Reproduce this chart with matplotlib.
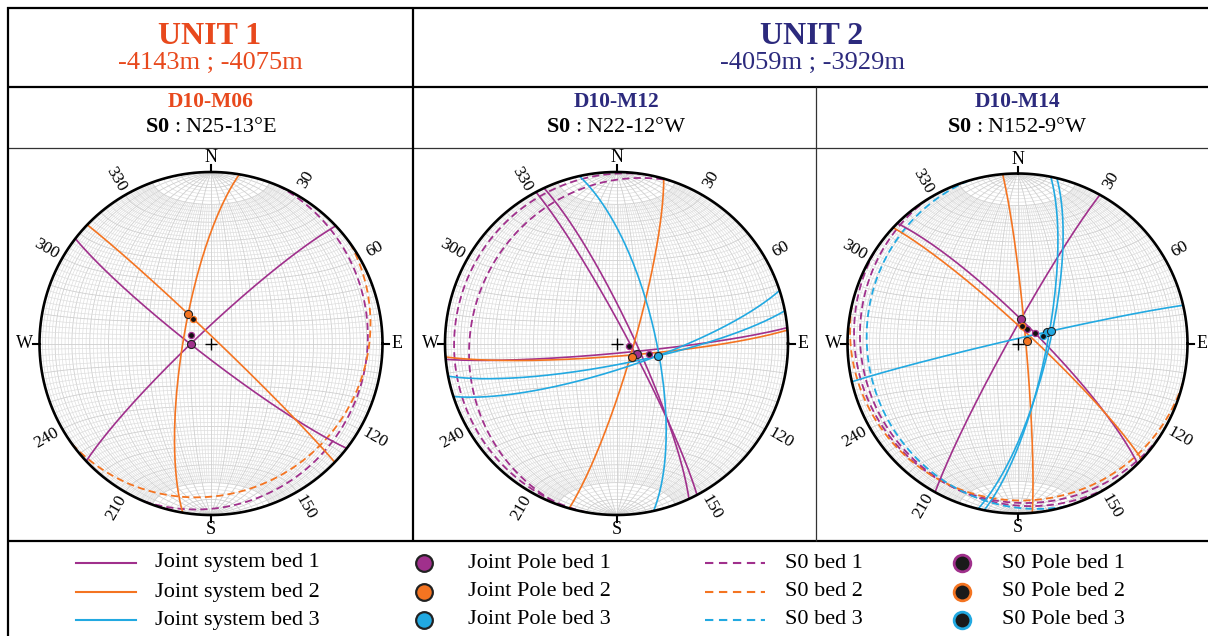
import numpy as np
import matplotlib
matplotlib.use("Agg")
import matplotlib.pyplot as plt
from matplotlib.lines import Line2D

plt.rcParams['font.family'] = ['Liberation Serif', 'DejaVu Serif']
plt.rcParams['mathtext.fontset'] = 'custom'
plt.rcParams['mathtext.rm'] = 'Liberation Serif'
plt.rcParams['mathtext.bf'] = 'Liberation Serif:bold'

W_PX, H_PX = 1208, 636

PURPLE = '#a0308c'
ORANGE = '#f47421'
CYAN = '#22a9e1'
UNIT1_COLOR = '#e8491d'
UNIT2_COLOR = '#2c2a7d'
BED_COLORS = [PURPLE, ORANGE, CYAN]

# planes are (dip direction, dip), poles/lines are (trend, plunge)
# D10-M06
m06_joint_bed1 = [(217.7, 83.8), (316.7, 83.5)]
m06_joint_bed2 = [(43.8, 87.3), (279.5, 76.8)]
m06_joint_bed3 = []
m06_jpole_bed1 = [(268.6, 80.3)]
m06_jpole_bed2 = [(322.4, 72.3)]
m06_jpole_bed3 = []
m06_s0_bed1 = [(113.0, 10.3)]
m06_s0_bed2 = [(144.1, 14.3)]
m06_s0_bed3 = []

# D10-M12
m12_joint_bed1 = [(174.7, 85.4), (62.0, 84.4), (65.0, 81.5)]
m12_joint_bed2 = [(175.5, 84.0), (106.0, 82.0)]
m12_joint_bed3 = [(77.5, 71.3), (169.0, 80.1), (162.0, 78.0)]
m12_jpole_bed1 = [(117.4, 78.9)]
m12_jpole_bed2 = [(131.0, 80.5)]
m12_jpole_bed3 = [(106.9, 69.6)]
m12_s0_bed1 = [(280.0, 6.0), (288.0, 16.0)]
m12_s0_bed2 = []
m12_s0_bed3 = []

# D10-M14
m14_joint_bed1 = [(45.0, 80.6), (299.0, 85.7)]
m14_joint_bed2 = [(43.0, 83.4), (85.0, 86.0)]
m14_joint_bed3 = [(347.0, 87.7), (101.3, 76.0), (103.4, 75.0)]
m14_jpole_bed1 = [(8.1, 78.2)]
m14_jpole_bed2 = [(73.0, 85.4)]
m14_jpole_bed3 = [(68.4, 74.7), (69.7, 72.7)]
m14_s0_bed1 = [(213.2, 8.3), (237.9, 9.7)]
m14_s0_bed2 = [(193.3, 8.7)]
m14_s0_bed3 = [(253.2, 12.9)]

panels = [
    dict(name='D10-M06', s0='N25-13°E', color=UNIT1_COLOR, cx=211, cy=343.5, r=171.5,
         joints=[m06_joint_bed1, m06_joint_bed2, m06_joint_bed3],
         jpoles=[m06_jpole_bed1, m06_jpole_bed2, m06_jpole_bed3],
         s0s=[m06_s0_bed1, m06_s0_bed2, m06_s0_bed3]),
    dict(name='D10-M12', s0='N22-12°W', color=UNIT2_COLOR, cx=616.5, cy=343.5, r=171.5,
         joints=[m12_joint_bed1, m12_joint_bed2, m12_joint_bed3],
         jpoles=[m12_jpole_bed1, m12_jpole_bed2, m12_jpole_bed3],
         s0s=[m12_s0_bed1, m12_s0_bed2, m12_s0_bed3]),
    dict(name='D10-M14', s0='N152-9°W', color=UNIT2_COLOR, cx=1017.5, cy=343.5, r=170,
         joints=[m14_joint_bed1, m14_joint_bed2, m14_joint_bed3],
         jpoles=[m14_jpole_bed1, m14_jpole_bed2, m14_jpole_bed3],
         s0s=[m14_s0_bed1, m14_s0_bed2, m14_s0_bed3]),
]

units = [('UNIT 1', '-4143m ; -4075m', UNIT1_COLOR, 210),
         ('UNIT 2', '-4059m ; -3929m', UNIT2_COLOR, 812)]

joint_labels = ['Joint system bed 1', 'Joint system bed 2', 'Joint system bed 3']
jpole_labels = ['Joint Pole bed 1', 'Joint Pole bed 2', 'Joint Pole bed 3']
s0_labels = ['S0 bed 1', 'S0 bed 2', 'S0 bed 3']
s0pole_labels = ['S0 Pole bed 1', 'S0 Pole bed 2', 'S0 Pole bed 3']
ring_labels = [30, 60, 120, 150, 210, 240, 300, 330]


# lower hemisphere equal-area (Schmidt) projection of unit vectors (north, east, down)
def project(n, e, d):
    s = np.sqrt(1.0 + d)
    return e / s, n / s


def line_xy(trend, plunge):
    t, p = np.radians(trend), np.radians(plunge)
    return project(np.cos(p) * np.cos(t), np.cos(p) * np.sin(t), np.sin(p))


def plane_xy(dipdir, dip, n=241):
    a = np.linspace(0, np.pi, n)
    dd, dp = np.radians(dipdir), np.radians(dip)
    st = dd - np.pi / 2
    nn = np.cos(a) * np.cos(st) + np.sin(a) * np.cos(dp) * np.cos(dd)
    ee = np.cos(a) * np.sin(st) + np.sin(a) * np.cos(dp) * np.sin(dd)
    dd_ = np.sin(a) * np.sin(dp)
    return project(nn, ee, dd_)


def draw_net(ax):
    # 2 degree net; the minor meridians stop short of the N and S poles
    cap = np.radians(20)
    phi = np.linspace(0, np.pi, 181)
    for k in range(2, 90, 2):
        major = k % 10 == 0
        col = '#cfcfcf' if major else '#dedede'
        lw = 0.6 if major else 0.5
        dp = np.radians(k)
        a = np.linspace(0, np.pi, 181) if major else np.linspace(cap, np.pi - cap, 161)
        for sgn in (1, -1):
            x, y = project(np.cos(a), sgn * np.sin(a) * np.cos(dp), np.sin(a) * np.sin(dp))
            ax.plot(x, y, color=col, lw=lw, zorder=1)
            # small circles about the N-S axis
            x, y = project(sgn * np.cos(dp) * np.ones_like(phi), np.sin(dp) * np.cos(phi),
                           np.sin(dp) * np.sin(phi))
            ax.plot(x, y, color=col, lw=lw, zorder=1)
    ax.plot([0, 0], [-1, 1], color='#cfcfcf', lw=0.6, zorder=1)
    ax.plot([-1, 1], [0, 0], color='#cfcfcf', lw=0.6, zorder=1)


fig = plt.figure(figsize=(W_PX / 100, H_PX / 100), dpi=100)


def fx(x):
    return x / W_PX


def fy(y):
    return 1 - y / H_PX


def hline(y, x0, x1, lw=2.0, color='black'):
    fig.add_artist(Line2D([fx(x0), fx(x1)], [fy(y), fy(y)], transform=fig.transFigure,
                          color=color, lw=lw, solid_capstyle='butt'))


def vline(x, y0, y1, lw=2.0, color='black'):
    fig.add_artist(Line2D([fx(x), fx(x)], [fy(y0), fy(y1)], transform=fig.transFigure,
                          color=color, lw=lw, solid_capstyle='butt'))


# table frame
hline(8, 7, 1208, lw=1.6)
hline(87, 7, 1208, lw=1.6)
hline(148, 7, 1208, lw=0.9, color='#333333')
hline(541, 7, 1208, lw=1.6)
vline(8, 7, 636, lw=1.6)
vline(413, 7, 541, lw=1.6)
vline(816, 87, 541, lw=0.9, color='#333333')

for title, depth, col, x in units:
    fig.text(fx(x), fy(37), title, color=col, fontsize=23, fontweight='bold',
             ha='center', va='center')
    fig.text(fx(x), fy(63), depth, color=col, fontsize=19, ha='center', va='center')

for p in panels:
    fig.text(fx(p['cx']), fy(102), p['name'], color=p['color'], fontsize=15.5,
             fontweight='bold', ha='center', va='center')
    fig.text(fx(p['cx']), fy(128), r'$\mathbf{S0}$ : ' + p['s0'], color='black',
             fontsize=16, ha='center', va='center')

    cx, cy, r = p['cx'], p['cy'], p['r']
    ext = 1.25
    ax = fig.add_axes([fx(cx - ext * r), fy(cy + ext * r), 2 * ext * r / W_PX, 2 * ext * r / H_PX])
    ax.set_xlim(-ext, ext)
    ax.set_ylim(-ext, ext)
    ax.set_aspect('equal')
    ax.axis('off')

    draw_net(ax)
    t = np.linspace(0, 2 * np.pi, 400)
    ax.plot(np.cos(t), np.sin(t), color='black', lw=1.9, zorder=6)

    for az, lab in zip([0, 90, 180, 270], ['N', 'E', 'S', 'W']):
        s, c = np.sin(np.radians(az)), np.cos(np.radians(az))
        ax.plot([s, 1.04 * s], [c, 1.04 * c], color='black', lw=1.5, zorder=6)
        ax.text(1.085 * s, 1.085 * c, lab, fontsize=13, ha='center', va='center')
    for az in ring_labels:
        s, c = np.sin(np.radians(az)), np.cos(np.radians(az))
        rot = 90 - az
        if rot < -90:
            rot += 180
        ax.text(1.105 * s, 1.105 * c, str(az), fontsize=12.5, rotation=rot,
                rotation_mode='anchor', ha='center', va='center')

    ax.plot(0, 0, marker='+', ms=8, mew=1.0, color='black', zorder=7)

    for col, planes in zip(BED_COLORS, p['s0s']):
        for dd, dip in planes:
            x, y = plane_xy(dd, dip)
            ax.plot(x, y, color=col, lw=1.3, ls=(0, (4, 2.3)), zorder=3)
    for col, planes in zip(BED_COLORS, p['joints']):
        for dd, dip in planes:
            x, y = plane_xy(dd, dip)
            ax.plot(x, y, color=col, lw=1.2, zorder=4)
    for col, poles in zip(BED_COLORS, p['jpoles']):
        for tr, pl in poles:
            x, y = line_xy(tr, pl)
            ax.plot(x, y, marker='o', ms=5.8, mfc=col, mec='#222222', mew=0.8, zorder=8)
    for col, planes in zip(BED_COLORS, p['s0s']):
        for dd, dip in planes:
            x, y = line_xy(dd + 180, 90 - dip)
            ax.plot(x, y, marker='o', ms=4.4, mfc='#111111', mec=col, mew=0.9, zorder=9)

# legend
rows_y = [563, 592, 620]
for i, y in enumerate(rows_y):
    col = BED_COLORS[i]
    fig.add_artist(Line2D([fx(76), fx(136)], [fy(y), fy(y)], transform=fig.transFigure,
                          color=col, lw=1.5))
    fig.text(fx(155), fy(y), joint_labels[i], fontsize=16, ha='left', va='center')
    fig.add_artist(Line2D([fx(424)], [fy(y)], transform=fig.transFigure, marker='o', ms=12,
                          mfc=col, mec='#222222', mew=1.6))
    fig.text(fx(468), fy(y), jpole_labels[i], fontsize=16, ha='left', va='center')
    fig.add_artist(Line2D([fx(705), fx(765)], [fy(y), fy(y)], transform=fig.transFigure,
                          color=col, lw=1.5, ls=(0, (4, 2.7))))
    fig.text(fx(785), fy(y), s0_labels[i], fontsize=16, ha='left', va='center')
    fig.add_artist(Line2D([fx(962)], [fy(y)], transform=fig.transFigure, marker='o', ms=12,
                          mfc='#1a1a1a', mec=col, mew=2.0))
    fig.text(fx(1002), fy(y), s0pole_labels[i], fontsize=16, ha='left', va='center')

fig.savefig('out.png', dpi=100, facecolor='white')
